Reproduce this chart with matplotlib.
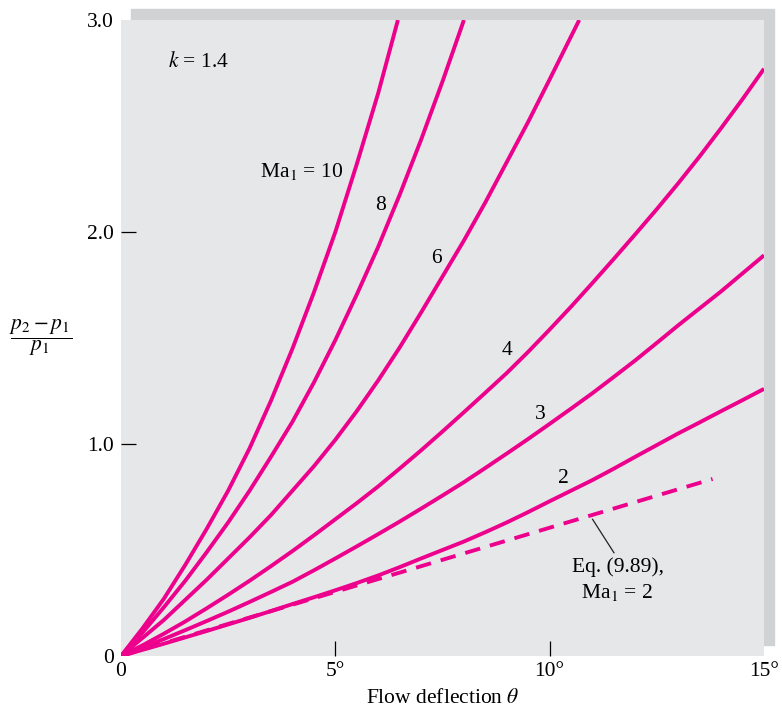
import matplotlib.pyplot as plt
from matplotlib.patches import Rectangle

# Values: flow deflection (deg) vs (p2 - p1)/p1
theta_10 = [0, 0.5, 1, 1.5, 2, 2.5, 3, 3.5, 4, 4.5, 5, 5.5, 6, 6.46]
dp_10 = [0, 0.13, 0.27, 0.43, 0.60, 0.78, 0.98, 1.205, 1.45, 1.715,
         2.00, 2.32, 2.655, 3.0]

theta_8 = [0, 0.5, 1, 1.5, 2, 2.5, 3, 3.5, 4, 4.5, 5, 5.5, 6, 6.5, 7, 7.5, 8.0]
dp_8 = [0, 0.11, 0.23, 0.355, 0.49, 0.63, 0.78, 0.94, 1.105, 1.29, 1.49,
        1.705, 1.93, 2.175, 2.435, 2.71, 3.0]

theta_6 = [0, 0.5, 1, 1.5, 2, 2.5, 3, 3.5, 4, 4.5, 5, 5.5, 6, 6.5, 7, 7.5,
           8, 8.5, 9, 9.5, 10, 10.69]
dp_6 = [0, 0.085, 0.17, 0.265, 0.36, 0.46, 0.56, 0.665, 0.78, 0.895, 1.02,
        1.155, 1.30, 1.455, 1.62, 1.79, 1.96, 2.14, 2.33, 2.52, 2.72, 3.0]

theta_all = [0, 0.5, 1, 1.5, 2, 2.5, 3, 3.5, 4, 4.5, 5, 5.5, 6, 6.5, 7, 7.5,
             8, 8.5, 9, 9.5, 10, 10.5, 11, 11.5, 12, 12.5, 13, 13.5, 14, 14.5, 15]
dp_4 = [0, 0.05, 0.105, 0.163, 0.225, 0.289, 0.355, 0.424, 0.495, 0.569,
        0.645, 0.721, 0.80, 0.884, 0.97, 1.059, 1.15, 1.242, 1.335, 1.435,
        1.54, 1.648, 1.76, 1.874, 1.99, 2.108, 2.23, 2.357, 2.49, 2.627, 2.77]
dp_3 = [0, 0.04, 0.08, 0.122, 0.165, 0.209, 0.255, 0.302, 0.35, 0.404,
        0.46, 0.517, 0.575, 0.634, 0.695, 0.757, 0.82, 0.887, 0.955, 1.024,
        1.095, 1.167, 1.24, 1.317, 1.395, 1.477, 1.56, 1.64, 1.72, 1.805, 1.89]
dp_2 = [0, 0.029, 0.058, 0.088, 0.118, 0.149, 0.18, 0.212, 0.245, 0.277,
        0.31, 0.344, 0.38, 0.419, 0.46, 0.50, 0.54, 0.584, 0.63, 0.679,
        0.73, 0.78, 0.83, 0.884, 0.94, 0.995, 1.05, 1.102, 1.155, 1.207, 1.26]

# Eq. (9.89) linear approximation, Ma1 = 2
theta_eq = [0, 13.8]
dp_eq = [0, 0.835]

pink = "#ec008c"
plt.rcParams["font.family"] = ["Liberation Serif", "DejaVu Serif"]
plt.rcParams["mathtext.fontset"] = "stix"

fig = plt.figure(figsize=(7.82, 7.14), dpi=100)
W, H = 782, 714
ax = fig.add_axes([121 / W, 58 / H, 643 / W, 636 / H])
ax.set_facecolor("#e6e7e9")
ax.set_zorder(1)

# Shadow behind the panel
fig.patches.append(Rectangle((131 / W, 69 / H), 643 / W, 636 / H,
                             transform=fig.transFigure, color="#d1d2d4", zorder=-1))

for th, dp in [(theta_10, dp_10), (theta_8, dp_8), (theta_6, dp_6),
               (theta_all, dp_4), (theta_all, dp_3), (theta_all, dp_2)]:
    ax.plot(th, dp, color=pink, lw=2.8, solid_capstyle="butt",
            solid_joinstyle="round")
ax.plot(theta_eq, dp_eq, color=pink, lw=2.8, dashes=(4.0, 2.6))

ax.set_xlim(0, 15)
ax.set_ylim(0, 3)
for s in ax.spines.values():
    s.set_visible(False)

fs = 15.5
ax.set_xticks([0, 5, 10, 15])
ax.set_xticklabels(["0", "5°", "10°", "15°"])
ax.set_yticks([0, 1, 2, 3])
ax.set_yticklabels(["0", "1.0", "2.0", "3.0"])
ax.tick_params(direction="in", length=11, width=0.9, labelsize=fs, pad=5)
ax.tick_params(axis="x", pad=4)
for t in [ax.xaxis.get_major_ticks()[0], ax.xaxis.get_major_ticks()[-1],
          ax.yaxis.get_major_ticks()[0], ax.yaxis.get_major_ticks()[-1]]:
    t.tick1line.set_visible(False)

ax.set_xlabel(r"Flow deflection $\theta$", fontsize=fs, labelpad=6)
fig.text(41 / W, 1 - 338 / H, r"$\dfrac{p_2 - p_1}{p_1}$", fontsize=15.5,
         ha="center", va="center")

ax.text(1.10, 2.80, r"$k$ = 1.4", fontsize=fs, ha="left", va="center")
ax.text(5.18, 2.26, r"Ma$_1$ = 10", fontsize=fs, ha="right", va="baseline")
ax.text(6.06, 2.127, "8", fontsize=fs, ha="center", va="center")
ax.text(7.36, 1.876, "6", fontsize=fs, ha="center", va="center")
ax.text(9.00, 1.443, "4", fontsize=fs, ha="center", va="center")
ax.text(9.79, 1.137, "3", fontsize=fs, ha="center", va="center")
ax.text(10.32, 0.838, "2", fontsize=fs, ha="center", va="center")
ax.text(11.59, 0.42, "Eq. (9.89),", fontsize=fs, ha="center", va="center")
ax.text(11.58, 0.274, r"Ma$_1$ = 2", fontsize=fs, ha="center", va="baseline")
ax.plot([11.0, 11.5], [0.645, 0.487], color="#222222", lw=0.9)

fig.savefig("out.png", dpi=100)
